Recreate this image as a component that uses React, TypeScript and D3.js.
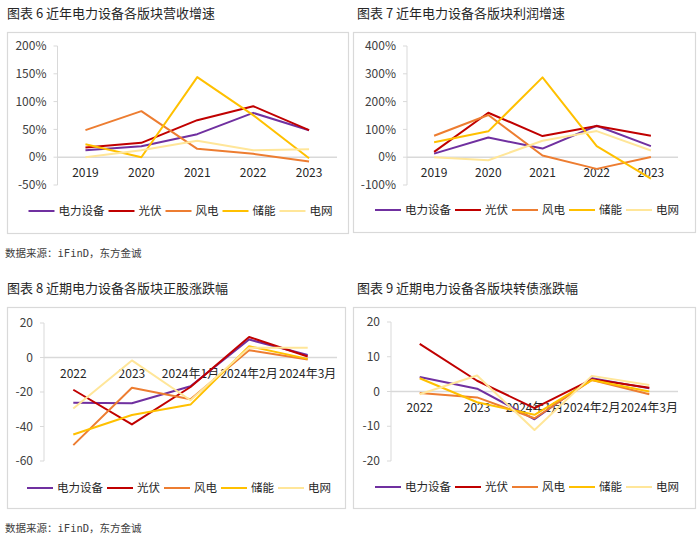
import * as d3 from "d3";

const seriesNames = ["电力设备", "光伏", "风电", "储能", "电网"];
const years = ["2019", "2020", "2021", "2022", "2023"];
const periods = ["2022", "2023", "2024年1月", "2024年2月", "2024年3月"];

// 营收增速 (%), one row per series in seriesNames order
const revenueGrowth = [
    [12.6, 19.8, 41.4, 79.8, 48.6],
    [17.4, 25.8, 66.6, 91.8, 48.6],
    [48.6, 82.8, 15, 6, -7.8],
    [23.4, 0, 144, 75.6, -1.8],
    [0, 12.6, 29.4, 12.6, 14.4],
];

// 利润增速 (%)
const profitGrowth = [
    [13, 71, 31, 113, 40],
    [19, 160, 76, 112, 77],
    [77, 152, 6, -42, 1],
    [54, 93, 287, 40, -77],
    [0, -11, 59, 94, 24],
];

// 正股涨跌幅
const stockChange = [
    [-26.2, -26.5, -16.7, 10.4, 1.5],
    [-18.7, -38.8, -17.1, 11.9, 0.6],
    [-50.8, -17.5, -24.2, 4.2, -1.2],
    [-44.6, -33.3, -27.3, 6.5, -0.8],
    [-29.6, -1.7, -24.8, 5.6, 5.6],
];

// 转债涨跌幅
const bondChange = [
    [4.2, 0.8, -8.0, 3.8, 0.9],
    [13.7, 3.1, -4.8, 3.5, 1.1],
    [-0.4, -1.7, -7.7, 3.3, -0.8],
    [3.8, -3.1, -6.7, 3.3, 0],
    [-0.8, 4.6, -11.1, 4.5, 1.9],
];

const revenueTicks = [-50, 0, 50, 100, 150, 200];
const profitTicks = [-100, 0, 100, 200, 300, 400];
const stockTicks = [-60, -40, -20, 0, 20];
const bondTicks = [-20, -10, 0, 10, 20];

const colors = ["#7030A0", "#C00000", "#ED7D31", "#FFC000", "#FFE699"];
const FONT = "'Noto Sans CJK SC', 'Noto Sans', sans-serif";
const GRID = "#D9D9D9";

function Panel({ title, titleX, titleY, box, left, right, top, bottom, ticks, pct, cats, values, legendY }) {
    const y = d3.scaleLinear()
        .domain([ticks[0], ticks[ticks.length - 1]])
        .range([bottom, top]);
    const x = d3.scaleBand().domain(cats).range([left, right]);
    const cx = (c) => x(c) + x.bandwidth() / 2;
    const line = d3.line<number>()
        .x((_, i) => cx(cats[i]))
        .y(d => y(d));

    // legend layout
    const lineLen = 26, gap = 4, spacing = 4, fs = 11.5;
    const widths = seriesNames.map(n => lineLen + gap + n.length * fs);
    const total = d3.sum(widths) + spacing * (widths.length - 1);
    let lx = box.x + box.w / 2 + 3 - total / 2;
    const legendPos = widths.map(w => {
        const p = lx;
        lx += w + spacing;
        return p;
    });

    return (
        <g>
            <text x={titleX} y={titleY} dy="0.35em" fontSize={13} fill="#262626" fontFamily={FONT}>
                {title}
            </text>
            <rect x={box.x + 0.5} y={box.y + 0.5} width={box.w} height={box.h}
                fill="#fff" stroke={GRID} strokeWidth={1.2} />
            {/* y axis */}
            <line x1={left} x2={left} y1={y(ticks[0])} y2={y(ticks[ticks.length - 1])}
                stroke={GRID} strokeWidth={1} />
            {ticks.map(t => (
                <g key={t}>
                    <line x1={left - 4} x2={left} y1={y(t)} y2={y(t)} stroke={GRID} />
                    <text x={left - 11} y={y(t)} dy="0.35em" textAnchor="end" fontSize={12}
                        fill="#404040" fontFamily={FONT}>
                        {pct ? `${t}%` : `${t}`}
                    </text>
                </g>
            ))}
            {/* zero axis */}
            <line x1={left} x2={right} y1={y(0)} y2={y(0)} stroke={GRID} strokeWidth={1.5} />
            {cats.map(c => (
                <text key={c} x={cx(c)} y={y(0) + 16} dy="0.35em" textAnchor="middle" fontSize={12}
                    fill="#262626" fontFamily={FONT}>
                    {c}
                </text>
            ))}
            {values.map((v, i) => (
                <path key={i} d={line(v)} fill="none" stroke={colors[i]} strokeWidth={2}
                    strokeLinejoin="round" />
            ))}
            {seriesNames.map((n, i) => (
                <g key={n}>
                    <line x1={legendPos[i]} x2={legendPos[i] + lineLen} y1={legendY} y2={legendY}
                        stroke={colors[i]} strokeWidth={2} />
                    <text x={legendPos[i] + lineLen + gap} y={legendY} dy="0.35em" fontSize={fs}
                        fill="#262626" fontFamily={FONT}>
                        {n}
                    </text>
                </g>
            ))}
        </g>
    );
}

export default function App() {
    const src = "数据来源：iFinD，东方金诚";
    const srcFont = "'DejaVu Sans Mono', 'Noto Sans CJK SC', monospace";
    return (
        <svg width={700} height={540}
            style={{ position: "absolute", left: 0, top: 0, background: "#fff" }}>
            <rect width={700} height={540} fill="#fff" />
            <Panel title="图表 6  近年电力设备各版块营收增速" titleX={7} titleY={13}
                box={{ x: 7, y: 32, w: 341, h: 201 }} left={57.5} right={337} top={46} bottom={185}
                ticks={revenueTicks} pct cats={years} values={revenueGrowth} legendY={211} />
            <Panel title="图表 7 近年电力设备各版块利润增速" titleX={357} titleY={13}
                box={{ x: 353, y: 32, w: 342, h: 200 }} left={407} right={678} top={46} bottom={185}
                ticks={profitTicks} pct cats={years} values={profitGrowth} legendY={210} />
            <Panel title="图表 8 近期电力设备各版块正股涨跌幅" titleX={7} titleY={288}
                box={{ x: 7, y: 307, w: 338, h: 201 }} left={44} right={337} top={323} bottom={461}
                ticks={stockTicks} pct={false} cats={periods} values={stockChange} legendY={488} />
            <Panel title="图表 9 近期电力设备各版块转债涨跌幅" titleX={357} titleY={288}
                box={{ x: 353, y: 307, w: 342, h: 201 }} left={391} right={678} top={322} bottom={461}
                ticks={bondTicks} pct={false} cats={periods} values={bondChange} legendY={487} />
            <text x={5} y={253} dy="0.35em" fontSize={10.5} fill="#404040" fontFamily={srcFont}>{src}</text>
            <text x={5} y={528} dy="0.35em" fontSize={10.5} fill="#404040" fontFamily={srcFont}>{src}</text>
        </svg>
    );
}
